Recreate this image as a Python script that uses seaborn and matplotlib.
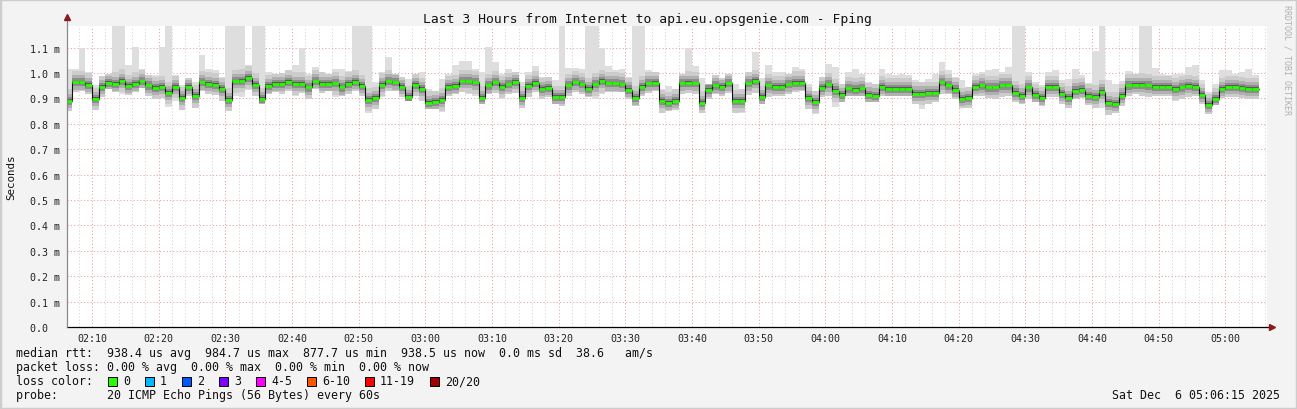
import numpy as np
import pandas as pd
import matplotlib
matplotlib.use("Agg")
import matplotlib.pyplot as plt
import seaborn as sns
from matplotlib.patches import Rectangle

# ---------------- data (ms) ----------------
first_sample = "02:07"   # first 1-minute sample (covers 02:06-02:07)
axis_start = "02:06:15"
axis_end = "05:06:15"

median_ms = [
    0.891, 0.963, 0.963, 0.953, 0.897, 0.945, 0.961, 0.957, 0.969, 0.949,
    0.957, 0.967, 0.951, 0.941, 0.945, 0.921, 0.945, 0.901, 0.945, 0.909,
    0.963, 0.957, 0.953, 0.936, 0.895, 0.967, 0.969, 0.981, 0.953, 0.897,
    0.949, 0.957, 0.957, 0.965, 0.957, 0.957, 0.943, 0.967, 0.957, 0.956,
    0.959, 0.943, 0.957, 0.965, 0.948, 0.895, 0.901, 0.953, 0.967, 0.963,
    0.945, 0.905, 0.953,
    0.936, 0.883, 0.887, 0.895, 0.945, 0.949, 0.967, 0.967, 0.963, 0.903,
    0.951, 0.963, 0.945, 0.955, 0.964, 0.903, 0.949, 0.961, 0.936, 0.941,
    0.905, 0.905, 0.951, 0.963, 0.955, 0.937, 0.955, 0.968, 0.959, 0.959,
    0.955, 0.935, 0.903, 0.945, 0.959, 0.961, 0.889, 0.881, 0.891, 0.959,
    0.961, 0.959, 0.883, 0.935, 0.951, 0.945, 0.959, 0.889, 0.891, 0.959,
    0.968, 0.905, 0.951, 0.945, 0.945, 0.955, 0.961, 0.961, 0.901, 0.887,
    0.941, 0.955, 0.931, 0.913, 0.939, 0.935, 0.939, 0.915, 0.911, 0.945,
    0.937, 0.937, 0.937, 0.937, 0.919, 0.919, 0.921, 0.921, 0.963, 0.951,
    0.935, 0.897, 0.903, 0.945, 0.951, 0.943, 0.943, 0.951, 0.951, 0.923,
    0.911, 0.943, 0.913, 0.901, 0.945, 0.945, 0.917, 0.903, 0.931, 0.935,
    0.911, 0.907, 0.927, 0.881, 0.879, 0.911, 0.951, 0.953, 0.953, 0.951,
    0.945, 0.945, 0.945, 0.937, 0.943, 0.949, 0.945, 0.913, 0.873, 0.897,
    0.937, 0.945, 0.944, 0.940, 0.937, 0.937,
]

max_ms = [
    1.017, 1.017, 1.097, 1.004, 0.951, 0.988, 0.997, 1.200, 1.200, 1.031,
    1.104, 1.015, 0.993, 0.993, 1.104, 1.200, 0.991, 0.951, 0.980, 0.964,
    1.071, 1.017, 1.011, 0.984, 1.200, 1.200, 1.200, 1.033, 1.200, 1.200,
    1.004, 0.997, 1.001, 1.011, 1.031, 1.097, 0.997, 1.024, 1.004, 0.997,
    1.017, 1.017, 1.008, 1.200, 1.200, 1.200, 0.964, 1.004, 1.064, 0.997,
    0.984, 0.977, 0.997,
    1.004, 0.937, 0.931, 0.977, 0.997, 1.031, 1.048, 1.048, 1.017, 1.004,
    1.104, 1.044, 0.997, 1.017, 1.004, 0.964, 1.004, 1.028, 0.984, 0.984,
    0.971, 1.200, 1.020, 1.020, 1.017, 1.200, 1.200, 1.097, 1.028, 1.011,
    1.017, 0.984, 1.200, 1.200, 1.011, 1.004, 0.937, 0.948, 0.937, 0.997,
    1.100, 1.028, 0.980, 0.957, 0.991, 0.980, 0.997, 0.957, 0.937, 1.004,
    1.081, 0.980, 1.031, 1.004, 1.004, 0.997, 1.024, 1.015, 0.957, 0.931,
    0.984, 1.037, 1.024, 0.957, 1.004, 1.017, 0.997, 0.964, 0.957, 1.015,
    0.997, 0.991, 0.997, 0.993, 0.971, 0.964, 0.977, 0.997, 1.044, 1.011,
    0.984, 0.971, 0.944, 0.997, 1.004, 1.011, 1.017, 1.004, 1.024, 1.200,
    1.200, 1.004, 0.964, 0.953, 1.004, 1.011, 0.971, 0.977, 1.015, 0.991,
    0.961, 1.087, 1.200, 0.971, 0.957, 0.967, 1.007, 0.997, 1.200, 1.200,
    1.020, 0.997, 0.991, 0.997, 0.997, 1.024, 1.033, 0.971, 0.924, 0.957,
    1.011, 1.011, 0.997, 1.004, 1.015, 0.991,
]

min_ms = [
    0.851, 0.924, 0.931, 0.917, 0.855, 0.904, 0.937, 0.924, 0.917, 0.913,
    0.924, 0.940, 0.908, 0.897, 0.900, 0.868, 0.891, 0.855, 0.908, 0.864,
    0.931, 0.917, 0.913, 0.891, 0.851, 0.911, 0.904, 0.935, 0.908, 0.877,
    0.917, 0.924, 0.917, 0.931, 0.908, 0.921, 0.897, 0.937, 0.921, 0.931,
    0.904, 0.911, 0.917, 0.931, 0.911, 0.844, 0.857, 0.904, 0.931, 0.931,
    0.904, 0.891, 0.911,
    0.891, 0.857, 0.860, 0.847, 0.911, 0.917, 0.924, 0.917, 0.911, 0.877,
    0.917, 0.921, 0.897, 0.917, 0.921, 0.864, 0.904, 0.924, 0.897, 0.904,
    0.877, 0.871, 0.911, 0.924, 0.917, 0.904, 0.897, 0.917, 0.924, 0.927,
    0.924, 0.897, 0.871, 0.911, 0.921, 0.931, 0.844, 0.851, 0.855, 0.917,
    0.921, 0.917, 0.844, 0.897, 0.917, 0.908, 0.921, 0.844, 0.841, 0.913,
    0.921, 0.877, 0.904, 0.908, 0.911, 0.917, 0.924, 0.931, 0.857, 0.837,
    0.904, 0.911, 0.868, 0.884, 0.911, 0.908, 0.908, 0.884, 0.884, 0.911,
    0.911, 0.911, 0.911, 0.908, 0.877, 0.857, 0.877, 0.884, 0.917, 0.917,
    0.897, 0.864, 0.864, 0.911, 0.908, 0.900, 0.897, 0.904, 0.911, 0.884,
    0.877, 0.897, 0.884, 0.871, 0.904, 0.904, 0.877, 0.864, 0.897, 0.900,
    0.873, 0.864, 0.864, 0.833, 0.844, 0.871, 0.911, 0.917, 0.911, 0.904,
    0.908, 0.911, 0.908, 0.891, 0.897, 0.904, 0.908, 0.877, 0.837, 0.873,
    0.900, 0.904, 0.904, 0.900, 0.897, 0.897,
]

y_ticks = [0.0, 0.1, 0.2, 0.3, 0.4, 0.5, 0.6, 0.7, 0.8, 0.9, 1.0, 1.1]
y_ticklabels = ["0.0  ", "0.1 m", "0.2 m", "0.3 m", "0.4 m", "0.5 m", "0.6 m",
                "0.7 m", "0.8 m", "0.9 m", "1.0 m", "1.1 m"]
x_ticklabels = ["02:10", "02:20", "02:30", "02:40", "02:50", "03:00", "03:10",
                "03:20", "03:30", "03:40", "03:50", "04:00", "04:10", "04:20",
                "04:30", "04:40", "04:50", "05:00"]

title = "Last 3 Hours from Internet to api.eu.opsgenie.com - Fping"
legend_rows = [
    "median rtt:  938.4 us avg  984.7 us max  877.7 us min  938.5 us now  0.0 ms sd  38.6   am/s",
    "packet loss: 0.00 % avg  0.00 % max  0.00 % min  0.00 % now",
    "loss color:",
    "probe:       20 ICMP Echo Pings (56 Bytes) every 60s",
]
loss_labels = ["0", "1", "2", "3", "4-5", "6-10", "11-19", "20/20"]
loss_colors = ["#26ff00", "#00b8ff", "#0059ff", "#7e00ff", "#ff00ff", "#ff5500", "#ff0000", "#a10000"]
stamp = "Sat Dec  6 05:06:15 2025"

# ---------------- helpers ----------------
def to_min(s):
    parts = [int(p) for p in s.split(":")]
    h, m = parts[0], parts[1]
    sec = parts[2] if len(parts) > 2 else 0
    return (h - 2) * 60 + m + sec / 60.0

W, H = 1297, 410
sns.set_theme(style="white")
plt.rcParams["font.family"] = ["DejaVu Sans Mono", "DejaVu Sans"]

med = np.array(median_ms)
hi = np.array(max_ms)
lo = np.array(min_ms)
sample_min = to_min(first_sample) + np.arange(len(med))
edges = np.append(sample_min - 1, sample_min[-1])

fig = plt.figure(figsize=(W / 100, H / 100), dpi=100, facecolor="#f3f3f3")
ax = fig.add_axes([67 / W, 82 / H, 1200 / W, 301 / H])
ax.set_facecolor("white")

x0, x1 = to_min(axis_start), to_min(axis_end)
ax.set_xlim(x0, x1)
ax.set_ylim(0, 1.185)

# grid
major_x = [to_min(t) for t in x_ticklabels]
ax.set_xticks(major_x)
ax.set_xticklabels(x_ticklabels)
ax.set_xticks(np.arange(8, 187, 2), minor=True)
ax.set_yticks(y_ticks)
ax.set_yticklabels(y_ticklabels)
ax.grid(False)
dots = (0, (1.2, 2.2))
for xm in np.arange(8, 187, 2):
    if xm % 10 != 0:
        ax.axvline(xm, color="#d4d4d4", lw=0.7, ls=dots, zorder=0.5)
for xm in major_x:
    ax.axvline(xm, color="#e9a3a3", lw=0.7, ls=dots, zorder=0.6)
for yv in y_ticks[1:]:
    ax.axhline(yv, color="#e9a3a3", lw=0.7, ls=dots, zorder=0.6)

# smoke
ax.stairs(hi, edges, baseline=lo, fill=True, color="#dedede", lw=0, zorder=1)
for w, c in [(0.045, "#cccccc"), (0.028, "#b0b0b0"), (0.016, "#8c8c8c"), (0.007, "#5a5a5a")]:
    up = np.minimum(hi, med + w)
    dn = np.maximum(lo, med - w)
    ax.stairs(up, edges, baseline=dn, fill=True, color=c, lw=0, zorder=1.1)

# median step line
df = pd.DataFrame({"t": edges, "rtt": np.append(med, med[-1])})
sns.lineplot(data=df, x="t", y="rtt", ax=ax, color="#111111", lw=0.8,
             drawstyle="steps-post", estimator=None, sort=False, zorder=3)
ax.hlines(med, edges[:-1], edges[1:], colors=loss_colors[0], lw=2.0, zorder=4,
          capstyle="butt")
ax.set_xlabel("")
ax.set_ylabel("")

# axes look
for s in ["top", "right", "left"]:
    ax.spines[s].set_visible(False)
ax.spines["bottom"].set_color("black")
ax.spines["bottom"].set_linewidth(0.9)
ax.plot([0, 0], [0, 1.025], transform=ax.transAxes, color="#8a8a8a", lw=0.9,
        clip_on=False, zorder=5)
ax.plot([1.0, 1.004], [0, 0], transform=ax.transAxes, color="black", lw=0.9,
        clip_on=False, zorder=5)
ax.plot([0], [1.03], transform=ax.transAxes, marker="^", ms=4, color="#8b1a1a",
        clip_on=False, zorder=6)
ax.plot([1.0045], [0], transform=ax.transAxes, marker=">", ms=4, color="#8b1a1a",
        clip_on=False, zorder=6)
ax.tick_params(axis="both", which="both", direction="out", colors="black",
               labelsize=7.2, length=2, width=0.6, pad=2)
ax.tick_params(axis="x", which="minor", length=1.5, width=0.5)
ax.tick_params(axis="y", pad=3)
for lab in ax.get_xticklabels() + ax.get_yticklabels():
    lab.set_color("#222222")

# texts
def ftxt(x, y, s, **kw):
    return fig.text(x / W, 1 - y / H, s, **kw)

ftxt(647.5, 19, title, ha="center", va="center", fontsize=9.4, color="#111111")
ftxt(11, 177, "Seconds", rotation=90, ha="center", va="center", fontsize=7.8, color="#111111")
ftxt(1287, 60, "RRDTOOL / TOBI OETIKER", rotation=270, ha="center", va="center",
     fontsize=6, color="#b0b0b0")

row_y = [354, 368, 382, 396]
for s, yy in zip(legend_rows, row_y):
    ftxt(16, yy, s, ha="left", va="center", fontsize=8.4, color="#111111")

lx = 123
for lab, col in zip(loss_labels, loss_colors):
    bx = lx - 15
    fig.patches.append(Rectangle((bx / W, 1 - (382 + 4.5) / H), 9 / W, 9 / H,
                                 transform=fig.transFigure, facecolor=col,
                                 edgecolor="black", lw=0.7))
    ftxt(lx, 382, lab, ha="left", va="center", fontsize=8.4, color="#111111")
    lx += 7 * len(lab) + 30

ftxt(1280, 396, stamp, ha="right", va="center", fontsize=8.4, color="#111111")

fig.patches.append(Rectangle((0, 0), 1, 1, transform=fig.transFigure, fill=False,
                             edgecolor="#cdcdcd", lw=2.5))

fig.savefig("out.png", dpi=100, facecolor=fig.get_facecolor())
